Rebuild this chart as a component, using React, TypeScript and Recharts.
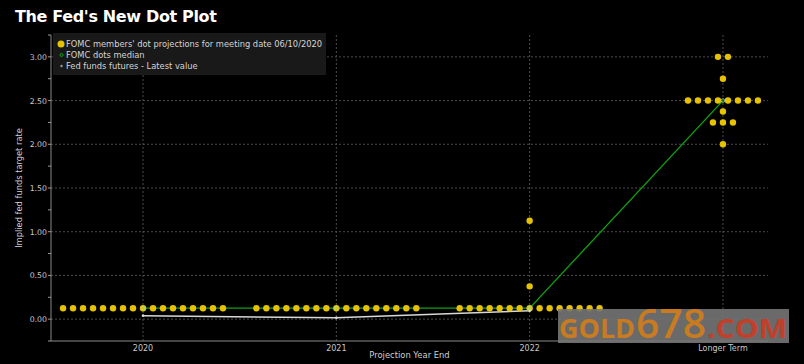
import {
  ComposedChart,
  Scatter,
  Line,
  XAxis,
  YAxis,
  CartesianGrid,
  Legend,
} from "recharts";

// categories on the x axis (0..3)
const periods = ["2020", "2021", "2022", "Longer Term"];

// individual FOMC projections, per period
const dots2020 = [
  0.125, 0.125, 0.125, 0.125, 0.125, 0.125, 0.125, 0.125, 0.125, 0.125, 0.125, 0.125, 0.125,
  0.125, 0.125, 0.125, 0.125,
];
const dots2021 = [
  0.125, 0.125, 0.125, 0.125, 0.125, 0.125, 0.125, 0.125, 0.125, 0.125, 0.125, 0.125, 0.125,
  0.125, 0.125, 0.125, 0.125,
];
const dots2022 = [
  0.125, 0.125, 0.125, 0.125, 0.125, 0.125, 0.125, 0.125, 0.125, 0.125, 0.125, 0.125, 0.125,
  0.125, 0.125, 0.375, 1.125,
];
const dotsLonger = [
  2.0, 2.25, 2.25, 2.25, 2.375, 2.5, 2.5, 2.5, 2.5, 2.5, 2.5, 2.5, 2.5, 2.75, 3.0, 3.0,
];

const medianValues = [0.125, 0.125, 0.125, 2.5];
const futuresValues = [0.04, 0.015, 0.095];

const yTicks = [
  -0.25, 0, 0.25, 0.5, 0.75, 1, 1.25, 1.5, 1.75, 2, 2.25, 2.5, 2.75, 3, 3.25,
];
const yGrid = [0, 0.5, 1, 1.5, 2, 2.5, 3];

const GOLD = "#e6c200";
const GREEN = "#0fa30f";
const SLOT = 0.0517; // horizontal spacing of equal dots, in category units
const FONT = "'DejaVu Sans', sans-serif";

// spread equal values side by side around the category centre
function spread(values: number[], cat: number) {
  const counts: Record<string, number> = {};
  values.forEach((v) => (counts[v] = (counts[v] || 0) + 1));
  const seen: Record<string, number> = {};
  return values.map((v) => {
    const i = seen[v] || 0;
    seen[v] = i + 1;
    return { x: cat + (i - (counts[v] - 1) / 2) * SLOT, y: v };
  });
}

const dotData = [
  ...spread(dots2020, 0),
  ...spread(dots2021, 1),
  ...spread(dots2022, 2),
  ...spread(dotsLonger, 3),
];
const medianData = medianValues.map((y, x) => ({ x, y }));
const futuresData = futuresValues.map((y, x) => ({ x, y }));

function LegendBox() {
  const row = { display: "flex", alignItems: "center", height: 11 } as const;
  return (
    <div
      style={{
        background: "#191919",
        width: 273,
        height: 42,
        padding: "5px 0 0 4px",
        boxSizing: "border-box",
        fontFamily: FONT,
        fontSize: 8.3,
        color: "#d4d4d4",
        whiteSpace: "nowrap",
      }}
    >
      <div style={row}>
        <svg width={9} height={8}>
          <circle cx={4} cy={4} r={3.5} fill={GOLD} />
        </svg>
        <span>FOMC members' dot projections for meeting date 06/10/2020</span>
      </div>
      <div style={row}>
        <svg width={9} height={8}>
          <circle cx={4.5} cy={4} r={1.5} fill="none" stroke={GREEN} strokeWidth={1} />
        </svg>
        <span>FOMC dots median</span>
      </div>
      <div style={row}>
        <svg width={9} height={8}>
          <circle cx={4.5} cy={4} r={1.2} fill="#9a9a9a" />
        </svg>
        <span>Fed funds futures - Latest value</span>
      </div>
    </div>
  );
}

function YTick(props: any) {
  const { x, y, payload } = props;
  const v = payload.value;
  const major = Math.abs(v * 2 - Math.round(v * 2)) < 1e-6;
  return (
    <g>
      <line x1={x - 3} x2={x} y1={y} y2={y} stroke="#9a9a9a" />
      {major && (
        <text x={x - 4} y={y + 3} textAnchor="end" fill="#c8c8c8" fontSize={7.8} fontFamily={FONT}>
          {v.toFixed(2)}
        </text>
      )}
    </g>
  );
}

export default function App() {
  return (
    <div
      style={{
        position: "absolute",
        left: 0,
        top: 0,
        width: 804,
        height: 364,
        background: "#000",
        overflow: "hidden",
      }}
    >
      <div
        style={{
          position: "absolute",
          left: 15,
          top: 7,
          color: "#fff",
          fontFamily: "'DejaVu Sans', sans-serif",
          fontWeight: 700,
          fontSize: 16,
          letterSpacing: -0.35,
        }}
      >
        The Fed's New Dot Plot
      </div>
      <ComposedChart
        width={804}
        height={364}
        margin={{ top: 35, right: 36, bottom: 3, left: 0 }}
        style={{ position: "absolute", left: 0, top: 0 }}
      >
        <CartesianGrid
          stroke="#4c4c4c"
          strokeDasharray="2 2"
          horizontalValues={yGrid}
          verticalValues={[0, 1, 2, 3]}
        />
        <XAxis
          type="number"
          dataKey="x"
          height={20}
          domain={[-0.476, 3.233]}
          ticks={[0, 1, 2, 3]}
          tickFormatter={(v) => periods[v] ?? ""}
          tick={{ fontSize: 8, fill: "#c8c8c8", fontFamily: FONT }}
          tickLine={false}
          tickSize={2}
          tickMargin={2}
          axisLine={{ stroke: "#8a8a8a" }}
          allowDataOverflow
          label={{
            value: "Projection Year End",
            position: "insideBottom",
            offset: 3,
            fill: "#d0d0d0",
            fontSize: 8.4,
            fontFamily: FONT,
          }}
        />
        <YAxis
          type="number"
          dataKey="y"
          width={51}
          domain={[-0.25, 3.25]}
          ticks={yTicks}
          interval={0}
          tick={<YTick />}
          tickLine={false}
          tickSize={0}
          tickMargin={0}
          axisLine={{ stroke: "#8a8a8a" }}
          allowDataOverflow
          label={{
            value: "Implied fed funds target rate",
            angle: -90,
            position: "center",
            dx: -6,
            fill: "#d0d0d0",
            fontSize: 8.3,
            fontFamily: FONT,
          }}
        />
        <Legend
          layout="vertical"
          align="center"
          verticalAlign="middle"
          wrapperStyle={{ left: 53, top: 33, width: 273, height: 42 }}
          content={() => <LegendBox />}
        />
        <Line
          data={futuresData}
          dataKey="y"
          stroke="#d8d8d8"
          strokeWidth={1.5}
          dot={{ r: 1.3, fill: "#d8d8d8", stroke: "none" }}
          isAnimationActive={false}
          legendType="none"
        />
        <Line
          data={medianData}
          dataKey="y"
          stroke={GREEN}
          strokeWidth={1.3}
          dot={false}
          isAnimationActive={false}
          legendType="none"
        />
        <Scatter
          data={dotData}
          dataKey="y"
          fill={GOLD}
          shape={(p: any) => <circle cx={p.cx} cy={p.cy} r={3.2} fill={GOLD} />}
          isAnimationActive={false}
        />
        <Line
          data={medianData}
          dataKey="y"
          stroke="none"
          dot={{ r: 1.8, fill: "none", stroke: "#9fe09f", strokeWidth: 0.8 }}
          isAnimationActive={false}
          legendType="none"
        />
      </ComposedChart>
      <svg
        width={231}
        height={34}
        style={{ position: "absolute", left: 558, top: 309 }}
      >
        <rect width={231} height={34} fill="rgba(118,118,118,0.9)" />
        <g fontFamily="'Open Sans', sans-serif" fontWeight={700}>
          <text x={1} y={29} fill="#c97b21" fontSize={26.5} textLength={76} lengthAdjust="spacingAndGlyphs">
            GOLD
          </text>
          <text x={78} y={29} fill="#c97b21" fontSize={40} fontWeight={600} textLength={70} lengthAdjust="spacingAndGlyphs">
            678
          </text>
          <text x={149} y={29} fill="#c0402b" fontSize={26.5} textLength={80} lengthAdjust="spacingAndGlyphs">
            .COM
          </text>
        </g>
      </svg>
    </div>
  );
}
